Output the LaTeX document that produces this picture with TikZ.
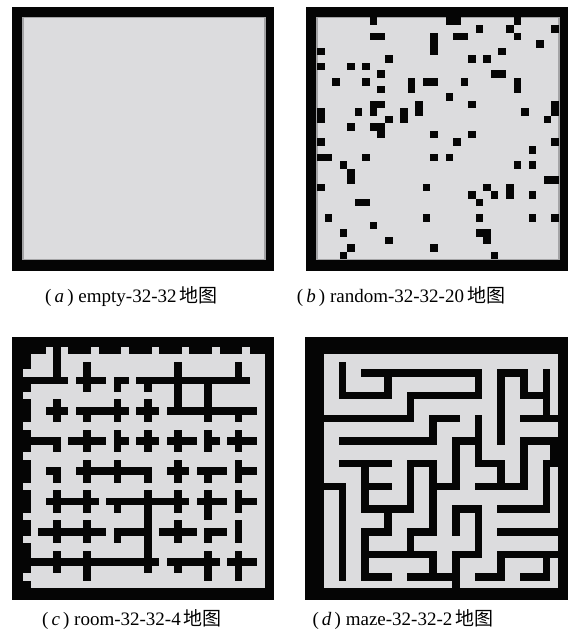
\documentclass[tikz,border=0pt]{standalone}
\usepackage{fontspec}
\setmainfont{Liberation Serif}
\newfontfamily\cjk{Noto Sans CJK SC}
\definecolor{floorGray}{HTML}{DCDCDE}
\definecolor{edgeGray}{HTML}{A4A4A6}
\definecolor{wallBlack}{HTML}{050505}

\begin{document}
\begin{tikzpicture}[
    x=1pt, y=-1pt,
    mapframe/.style={fill=wallBlack},
    floorarea/.style={fill=floorGray, draw=edgeGray, line width=1.2pt},
    floorplain/.style={fill=floorGray},
    wallcell/.style={fill=wallBlack},
    caption/.style={font=\fontsize{19}{21}\selectfont, inner sep=0pt},
    gridunit/.style={x=7.56pt, y=-7.56pt}
  ]
    \useasboundingbox (0,0) rectangle (567,636);
    \fill[white] (0,0) rectangle (567,636);

    % (a) empty map
    \begin{scope}[shift={(23,17.5)}, gridunit]
      \fill[mapframe] (-1.52,-1.39) rectangle (33.19,33.52);
      \fill[floorarea] (0,0) rectangle (32,32);
    \end{scope}

    % (b) random map, one list of blocked columns per row
    \begin{scope}[shift={(317,17.5)}, gridunit]
      \fill[mapframe] (-1.52,-1.39) rectangle (33.19,33.52);
      \fill[floorarea] (0,0) rectangle (32,32);
      \foreach \r/\cs in {0/{7,17,18,26}, 1/{21,25,31}, 2/{7,8,15,18,19,26},
          3/{15,29}, 4/{0,15,24}, 5/{9,20,22}, 6/{0,4,6}, 7/{8,23,24},
          8/{2,6,12,14,15,19,26}, 9/{8,12,26}, 10/{17}, 11/{7,8,13,20,31},
          12/{0,5,7,11,13,27,31}, 13/{0,9,11,30}, 14/{4,7,8}, 15/{8,15,20},
          16/{0,18,31}, 17/{28}, 18/{0,1,6,15,17}, 19/{3,26,28}, 20/{4},
          21/{4,30,31}, 22/{0,14,22,25}, 23/{20,23,25,28}, 24/{5,6,21},
          26/{1,14,21,28,31}, 27/{7}, 28/{3,21,22}, 29/{9,22}, 30/{4,15},
          31/{3,23}}
        \foreach \c in \cs
          \fill[wallcell] (\c,\r) rectangle ++(1,1);
    \end{scope}

    % (c) room map: outer wall runs, then one cross per wall corner
    % (row/col of the corner, arm lengths up/down/left/right)
    \begin{scope}[shift={(23,346.5)}, gridunit]
      \fill[mapframe] (-1.52,-1.2) rectangle (33.19,33.52);
      \fill[floorplain] (0,0) rectangle (32,32);
      \foreach \a/\b in {0/2, 4/4, 6/8, 10/12, 14/16, 18/20, 22/24, 26/28, 30/31}
        \fill[wallcell] (\a,0) rectangle (\b+1,1);
      \foreach \a/\b in {0/2, 4/5, 7/9, 11/13, 15/17, 19/21, 23/24, 26/29, 31/31}
        \fill[wallcell] (0,\a) rectangle (1,\b+1);
      \foreach \i/\j/\u/\d/\l/\rt in {
          1/1/3/0/3/1, 1/2/2/1/1/2, 1/3/0/1/0/1, 1/4/0/1/1/3,
          1/5/2/2/0/3, 1/6/0/2/0/3, 1/7/2/0/0/1,
          2/1/1/1/1/1, 2/2/0/1/1/3, 2/3/1/1/0/1, 2/4/1/1/1/1,
          2/5/1/0/1/2, 2/6/1/1/1/2, 2/7/0/1/1/2,
          3/1/0/1/3/0, 3/2/1/1/2/2, 3/3/1/1/0/1, 3/4/1/1/1/1,
          3/5/1/1/1/2, 3/6/1/1/0/1, 3/7/1/1/1/2,
          4/1/0/1/1/0, 4/2/1/1/1/2, 4/3/1/1/1/0, 4/4/0/1/3/0,
          4/5/1/1/1/1, 4/6/0/1/1/2, 4/7/1/1/0/2,
          5/1/1/1/1/3, 5/2/1/1/0/1, 5/3/0/1/1/3, 5/4/1/1/1/3,
          5/5/1/1/0/1, 5/6/1/2/1/2, 5/7/1/1/0/2,
          6/1/1/1/2/3, 6/2/1/1/0/2, 6/3/0/1/0/3, 6/4/2/2/0/0,
          6/5/1/1/2/2, 6/6/0/1/0/2, 6/7/1/1/0/0,
          7/1/1/1/3/3, 7/2/1/2/1/2, 7/3/0/0/1/3, 7/4/1/1/1/1,
          7/5/0/1/1/2, 7/6/1/2/1/1, 7/7/1/2/1/2}
      {
        \fill[wallcell] (4*\j,4*\i-\u) rectangle (4*\j+1,4*\i+\d+1);
        \fill[wallcell] (4*\j-\l,4*\i) rectangle (4*\j+\rt+1,4*\i+1);
      }
    \end{scope}

    % (d) maze map: wall runs, row/from/to and col/from/to
    \begin{scope}[shift={(316,346.5)}, gridunit]
      \fill[mapframe] (-1.52,-1.2) rectangle (33.4,33.52);
      \fill[floorplain] (0,0) rectangle (32,32);
      \foreach \r/\a/\b in {0/0/31, 3/6/21, 3/24/27,
          6/3/9, 6/12/21, 6/27/30,
          9/0/12, 9/15/18, 9/27/31,
          12/3/15, 12/18/21, 12/27/30,
          15/3/9, 15/12/15, 15/21/24,
          18/0/3, 18/6/9, 18/15/18, 18/21/27,
          21/6/12, 21/18/21, 21/24/30,
          24/6/9, 24/12/15, 24/24/31,
          27/6/15, 27/18/21, 27/24/31,
          30/6/9, 30/12/18, 30/21/24, 30/27/30}
        \fill[wallcell] (\a,\r) rectangle (\b+1,\r+1);
      \foreach \c/\a/\b in {0/0/31, 3/2/6, 3/18/30,
          6/15/21, 6/24/30, 9/3/6, 9/21/24,
          12/6/9, 12/15/21, 12/24/27,
          15/9/12, 15/15/24, 15/27/30,
          18/12/18, 18/21/24, 18/27/31,
          21/3/6, 21/9/15, 21/21/27,
          24/3/12, 24/15/18, 24/27/30,
          27/3/6, 27/12/18,
          30/3/9, 30/15/21, 30/27/30, 31/12/15}
        \fill[wallcell] (\c,\a) rectangle (\c+1,\b+1);
    \end{scope}

    \node[caption] (capA) at (131.5,297) {(\,\textit{a}\,) empty-32-32\,{\cjk 地图}};
    \node[caption] (capB) at (401,297) {(\,\textit{b}\,) random-32-32-20\,{\cjk 地图}};
    \node[caption] (capC) at (132,620) {(\,\textit{c}\,) room-32-32-4\,{\cjk 地图}};
    \node[caption] (capD) at (403,620) {(\,\textit{d}\,) maze-32-32-2\,{\cjk 地图}};
  \end{tikzpicture}
\end{document}
